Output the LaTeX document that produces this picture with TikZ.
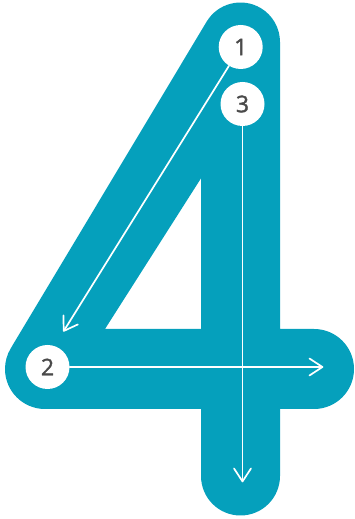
\documentclass[tikz,border=0pt]{standalone}
\usepackage{fontspec}
\newfontfamily\digitfont[FakeBold=1.5]{Open Sans}
\usetikzlibrary{arrows.meta}
\definecolor{teal4}{HTML}{05A0BC}
\definecolor{digit}{HTML}{4A4A4A}
\tikzset{
  numdot/.style={circle, fill=white, minimum size=44pt, inner sep=0pt,
    text=digit, font=\digitfont\fontsize{23}{23}\selectfont},
  guide/.style={draw=white, line width=1.7pt, line cap=round,
    -{Straight Barb[length=13pt,width=17pt,round]}}
}
\begin{document}
\begin{tikzpicture}[x=1pt,y=1pt]
\useasboundingbox (0,0) rectangle (354,519);
% the figure four
\fill[teal4, even odd rule]
  (280,477) -- (280,190) -- (314,190)
  arc[start angle=90, end angle=-90, radius=40]
  -- (280,110) -- (280,43)
  arc[start angle=0, end angle=-180, radius=39.5]
  -- (201,110) -- (45,110)
  arc[start angle=270, end angle=149, radius=40]
  -- (206.64,497.34)
  arc[start angle=149, end angle=0, radius=39.5]
  -- cycle
  (201,340.7) -- (201,190) -- (105,190) -- cycle;
% start points
\node[numdot] (n1) at (240.7,472) {1};
\node[numdot] (n3) at (242.5,415) {3};
\node[numdot] (n2) at (47.5,152) {2};
\coordinate (t1) at (63.3,187.3);
\coordinate (t2) at (323.3,152);
\coordinate (t3) at (242.5,36.7);
% strokes
\draw[guide] (n1) -- (t1);
\draw[guide] (n3) -- (t3);
\draw[guide] (n2) -- (t2);
\end{tikzpicture}
\end{document}
